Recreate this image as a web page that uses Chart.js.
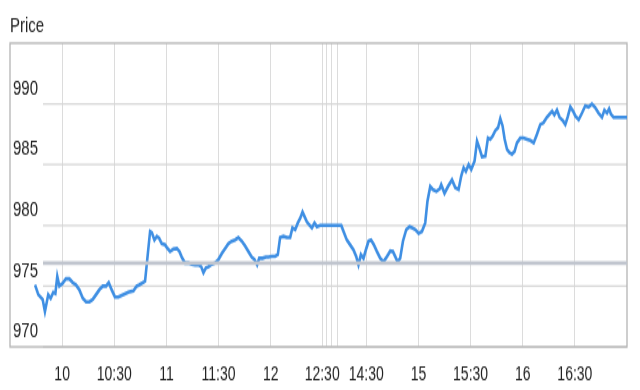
<!DOCTYPE html>
<html>
<head>
<meta charset="utf-8">
<script src="https://cdn.jsdelivr.net/npm/chart.js@4"></script>
<style>
    html, body { margin: 0; padding: 0; background: #fff; }
    #priceChart { display: block; }
</style>
</head>
<body>
<canvas id="priceChart" width="640" height="280" style="width:640px;height:390px"></canvas>
<script>
// session minutes from 9:30 (lunch break squeezed between 12:30 and 14:30)
const minutes = [
    14.4, 16.3, 18.8, 20.1, 22.0, 23.4, 24.9, 26.1, 27.2, 28.4, 30.1, 32.2, 34.1, 36.1, 38.0, 39.9,
    41.9, 43.8, 45.7, 47.6, 49.5, 51.4, 53.4, 55.3, 56.8, 58.5, 60.4, 62.3, 65.2, 68.1, 71.0, 72.9,
    74.4, 77.7, 80.6, 81.6, 83.1, 84.5, 85.8, 87.3, 89.2, 90.6, 92.1, 94.0, 96.0, 97.5, 98.8, 100.7,
    102.6, 104.6, 106.5, 108.4, 110.0, 111.3, 112.7, 114.2, 116.1, 118.0, 119.9, 121.9, 123.8, 125.7,
    127.6, 129.5, 131.4, 133.4, 135.3, 137.2, 139.1, 140.6, 142.2, 143.4, 145.3, 147.2, 148.7, 150.7,
    152.6, 154.1, 155.4, 157.3, 159.3, 161.2, 162.5, 164.1, 165.6, 167.0, 168.3, 169.4, 170.8, 172.1,
    173.7, 175.2, 176.6, 178.5, 190.6, 191.9, 193.8, 195.7, 197.6, 199.2, 200.5, 201.9, 203.4, 205.0,
    206.3, 207.7, 209.2, 211.1, 213.0, 214.9, 216.9, 218.8, 220.3, 221.6, 223.0, 224.5, 226.1, 228.0,
    229.9, 231.3, 233.2, 235.1, 237.0, 238.9, 240.2, 241.8, 243.3, 245.3, 247.2, 248.1, 250.0, 252.0,
    254.3, 256.2, 258.1, 259.6, 261.0, 262.3, 263.9, 265.4, 267.3, 268.7, 270.0, 271.6, 273.5, 275.0,
    276.3, 277.7, 279.2, 280.8, 282.1, 283.4, 284.6, 286.0, 287.3, 288.8, 290.3, 291.7, 293.6, 295.5,
    297.5, 299.4, 301.3, 303.2, 305.1, 306.9, 308.9, 310.4, 311.9, 313.2, 314.7, 316.2, 318.2, 319.5,
    320.8, 322.4, 324.0, 325.3, 327.2, 329.1, 331.0, 332.9, 334.8, 336.7, 338.6, 340.6, 342.0, 343.5,
    344.7, 345.8, 347.3, 355.0
];
const prices = [
    975.1, 974.3, 973.9, 972.9, 974.3, 974.0, 974.5, 974.4, 975.8, 975.0, 975.2, 975.6, 975.6, 975.3, 975.1, 974.7,
    974.0, 973.7, 973.7, 973.9, 974.3, 974.7, 975.0, 975.0, 975.3, 974.7, 974.1, 974.1, 974.3, 974.5, 974.6, 975.0,
    975.1, 975.4, 979.5, 979.4, 978.8, 979.1, 978.95, 978.5, 978.4, 978.1, 977.85, 978.05, 978.1, 977.85, 977.4, 976.9,
    976.9, 976.8, 976.75, 976.75, 976.6, 976.1, 976.5, 976.6, 976.8, 976.9, 977.2, 977.7, 978.1, 978.5,
    978.7, 978.8, 979.0, 978.7, 978.3, 977.85, 977.4, 977.2, 976.75, 977.3, 977.3, 977.4, 977.4, 977.45,
    977.45, 977.6, 979.0, 979.1, 979.0, 979.0, 979.8, 979.65, 980.2, 980.6, 981.1, 980.75, 980.3, 980.05,
    979.8, 980.2, 979.9, 980.0, 980.0, 979.5, 978.8, 978.4, 978.0, 977.45, 976.75, 977.6, 977.3, 978.1,
    978.7, 978.8, 978.45, 977.85, 977.3, 977.0, 977.45, 977.9, 977.85, 977.45, 977.0, 977.3, 978.7, 979.65,
    979.9, 979.8, 979.65, 979.35, 979.5, 980.2, 982.0, 983.2, 982.95, 982.8, 983.0, 983.35, 982.65, 983.2,
    983.75, 983.1, 982.95, 984.05, 984.75, 984.45, 985.0, 984.6, 985.3, 986.95, 986.4, 985.65, 985.7, 987.2,
    987.1, 987.35, 987.8, 988.05, 988.8, 988.2, 987.1, 986.25, 986.0, 985.85, 986.1, 986.8, 987.2, 987.2,
    987.1, 987.0, 986.8, 987.5, 988.3, 988.45, 988.9, 989.15, 989.4, 989.1, 989.5, 988.9, 988.6, 988.3,
    988.9, 989.75, 989.4, 989.0, 988.7, 989.25, 989.85, 989.75, 990.0, 989.7, 989.25, 988.9, 989.5, 989.25,
    989.6, 989.15, 988.9, 988.9
];
const previousClose = 976.9;
const closeLineStart = 19;
const sessionEnd = 355;

const xTickValues = [30, 60, 90, 120, 150, 179.6, 182, 184.7, 188.3, 205, 235, 265, 295, 325];
const xTickLabels = ['10', '10:30', '11', '11:30', '12', '12:30', '', '', '', '14:30', '15', '15:30', '16', '16:30'];
const yTickValues = [970, 975, 980, 985, 990];

const FONT = '"Liberation Sans", Arial, sans-serif';

// light horizontal grid starting right of the price labels, plus the frame
const framePlugin = {
    id: 'frame',
    beforeDatasetsDraw(chart) {
        const ctx = chart.ctx;
        const area = chart.chartArea;
        const yScale = chart.scales.y;
        ctx.save();
        ctx.strokeStyle = '#d6d6d6';
        ctx.lineWidth = 1.2;
        yTickValues.forEach(v => {
            const py = yScale.getPixelForValue(v);
            ctx.beginPath();
            ctx.moveTo(area.left + 33, py);
            ctx.lineTo(area.right, py);
            ctx.stroke();
        });
        ctx.strokeStyle = '#b4b4b4';
        ctx.lineWidth = 1.3;
        ctx.strokeRect(area.left, area.top, area.right - area.left, area.bottom - area.top);
        ctx.restore();
    }
};

new Chart(document.getElementById('priceChart'), {
    type: 'line',
    data: {
        datasets: [
            {
                data: [{ x: closeLineStart, y: previousClose }, { x: sessionEnd, y: previousClose }],
                borderColor: '#c0c5ce',
                borderWidth: 2.7,
                pointRadius: 0
            },
            {
                data: minutes.map((m, i) => ({ x: m, y: prices[i] })),
                borderColor: '#3f8fe3',
                borderWidth: 2.6,
                pointRadius: 0,
                tension: 0
            }
        ]
    },
    options: {
        responsive: false,
        animation: false,
        devicePixelRatio: 1,
        layout: { padding: { left: 10, right: 13, top: 0, bottom: 0 } },
        plugins: {
            legend: { display: false },
            tooltip: { enabled: false },
            title: {
                display: true,
                text: 'Price',
                align: 'start',
                color: '#222',
                font: { family: FONT, size: 15, weight: 'normal' },
                padding: { top: 10, bottom: 3 }
            }
        },
        scales: {
            x: {
                type: 'linear',
                min: 0,
                max: sessionEnd,
                afterBuildTicks: scale => { scale.ticks = xTickValues.map(v => ({ value: v })); },
                afterFit: scale => { scale.height = 31; },
                grid: { color: '#dcdcdc', lineWidth: 1, drawTicks: false },
                border: { display: false },
                ticks: {
                    autoSkip: false,
                    maxRotation: 0,
                    padding: 12,
                    color: '#222',
                    font: { family: FONT, size: 14 },
                    callback: (value, index) => xTickLabels[index]
                }
            },
            y: {
                min: 970,
                max: 995,
                afterBuildTicks: scale => { scale.ticks = yTickValues.map(v => ({ value: v })); },
                afterFit: scale => { scale.width = 0; },
                grid: { display: false, drawTicks: false },
                border: { display: false },
                ticks: {
                    mirror: true,
                    padding: 3,
                    labelOffset: -11,
                    color: '#222',
                    font: { family: FONT, size: 15 }
                }
            }
        }
    },
    plugins: [framePlugin]
});
</script>
</body>
</html>
